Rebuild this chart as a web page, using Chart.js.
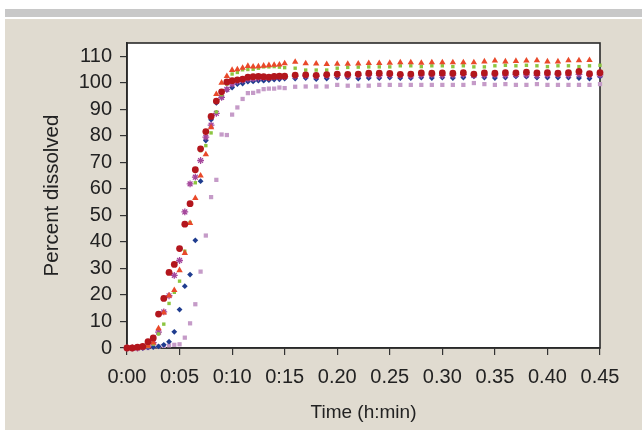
<!DOCTYPE html>
<html>
<head>
<meta charset="utf-8">
<script src="https://cdn.jsdelivr.net/npm/chart.js@4.4.1/dist/chart.umd.min.js"></script>
<style>
  html, body { margin: 0; padding: 0; background: #fff; }
  body { width: 642px; height: 430px; position: relative; overflow: hidden; }
  .band { position: absolute; left: 5px; right: 0; top: 9px; height: 8px; background: #c8c8c8; }
  .panel { position: absolute; left: 5px; right: 0; top: 19px; bottom: 0; background: #e0dbd0; }
  #chart { position: absolute; left: 0; top: 0; }
</style>
</head>
<body>
<div class="band"></div>
<div class="panel"></div>
<canvas id="chart" width="642" height="430"></canvas>
<script>
// sampling times in minutes: every 30 s up to 15 min, then every minute
const minutes = [0, 0.5, 1, 1.5, 2, 2.5, 3, 3.5, 4, 4.5, 5, 5.5, 6, 6.5, 7, 7.5, 8, 8.5, 9, 9.5,
    10, 10.5, 11, 11.5, 12, 12.5, 13, 13.5, 14, 14.5, 15,
    16, 17, 18, 19, 20, 21, 22, 23, 24, 25, 26, 27, 28, 29, 30,
    31, 32, 33, 34, 35, 36, 37, 38, 39, 40, 41, 42, 43, 44, 45];

const redCircles = [0, 0, 0.3, 0.6, 2.4, 3.8, 12.8, 18.7, 28.5, 31.5, 37.5, 46.7, 54.4, 67.2, 75.1,
    81.6, 87.3, 93.1, 96.6, 100.3, 100.8, 101.1, 101.4, 102.1, 102.3, 102.4, 102.3, 102.1, 102.4, 102.5, 102.5,
    102.9, 103.0, 102.8, 103.1, 103.3, 103.2, 103.3, 103.6, 103.6, 103.5, 103.2, 103.3, 103.7, 103.6, 103.7,
    103.6, 103.8, 103.3, 103.7, 103.6, 103.8, 103.7, 104.0, 103.7, 103.8, 103.6, 103.8, 104.3, 103.4, 103.8];

const orangeTriangles = [0, 0, 0, 0.3, 0.8, 2, 7.4, 13.3, 19.7, 21.8, 29.3, 35.8, 47.1, 56.5, 65,
    73, 83.2, 95.7, 100, 102.5, 104.8, 105, 105.6, 106.3, 106.1, 106.2, 106.4, 106.6, 106.7, 106.8, 107.3,
    107.9, 107.3, 107.2, 107.0, 107.1, 107.1, 107.2, 107.4, 107.4, 107.5, 107.7, 107.7, 107.5, 107.7, 107.7,
    107.7, 107.7, 107.7, 108.0, 108.3, 108.0, 108.2, 108.3, 108.4, 108.0, 108.0, 108.4, 108.4, 108.5];

const greenSquares = [0, 0, 0, 0.2, 0.6, 1.5, 5.3, 9, 16.8, 21, 25.2, 36.5, 47.3, 62.3, 74.4,
    76.3, 81.1, 89, 95.5, 99.5, 103.3, 103.9, 104.9, 105.0, 105.1, 105.5, 106.0, 106.0, 106.1, 105.9, 105.7,
    105.5, 104.8, 104.8, 104.8, 105.5, 105.8, 105.9, 106.0, 106.0, 106.0, 106.4, 106.4, 106.1, 106.4, 106.4,
    106.1, 106.4, 106.0, 106.0, 106.4, 106.6, 106.4, 106.6, 106.4, 106.1, 106.4, 106.4, 106.1, 106.4, 106.6];

const purpleStars = [0, 0, 0, 0.3, 0.8, 2, 6, 13.6, 19.7, 27.4, 33, 51.3, 61.9, 64.4, 70.7,
    79.5, 84, 88.5, 94.5, 97.5, 99.5, 100.5, 101, 101.5, 101.6, 101.8, 102, 102, 102.2, 102.2, 102.3,
    102.5, 102.6, 102.4, 102.7, 102.8, 102.6, 102.8, 102.9, 102.7, 102.9, 102.8, 102.6, 102.9, 103.0, 102.8,
    102.9, 103.1, 102.8, 102.9, 103.0, 102.9, 103.1, 103.0, 102.8, 103.0, 103.1, 102.9, 103.2, 102.9, 103.0];

const blueDiamonds = [0, 0, 0, 0, 0.2, 0.3, 0.6, 1.2, 2.4, 6.1, 14.5, 23.3, 27.7, 40.6, 62.9,
    78.2, 86.1, 92.4, 94.5, 97.4, 98.2, 99.5, 99.7, 100.4, 100.5, 100.8, 100.8, 101.0, 101.2, 101.3, 101.6,
    101.6, 101.8, 101.4, 101.6, 102.0, 102.0, 101.6, 101.8, 101.8, 102.0, 101.8, 101.8, 102.0, 101.8, 102.0,
    101.8, 102.0, 102.4, 102.0, 101.8, 102.0, 102.4, 102.3, 102.0, 102.0, 102.0, 102.0, 101.8, 101.6, 102.3];

const mauveSquares = [0, 0, 0, 0, 0, 0.4, 0.6, 0.8, 1, 1.2, 1.4, 3.9, 9.3, 16.5, 28.8,
    42.4, 56.9, 63.4, 80.5, 80.3, 88, 90.7, 93.9, 96.1, 96.2, 96.8, 97.6, 97.8, 97.8, 98.2, 98.0,
    98.5, 98.6, 98.6, 98.6, 99.2, 98.9, 98.9, 98.9, 99.2, 99.2, 99.2, 99.2, 99.2, 99.2, 99.2,
    99.2, 99.2, 99.9, 99.5, 99.2, 99.5, 99.2, 99.2, 99.5, 99.2, 99.2, 99.2, 99.2, 99.2, 99.5];

const xTicks = [0, 5, 10, 15, 20, 25, 30, 35, 40, 45];
const xTickLabels = ['0:00', '0:05', '0:10', '0:15', '0.20', '0.25', '0.30', '0.35', '0.40', '0.45'];
const yTicks = [0, 10, 20, 30, 40, 50, 60, 70, 80, 90, 100, 110];

const points = vals => vals.map((v, i) => ({ x: minutes[i], y: v }));

function series(vals, style, color, radius, extra) {
    return Object.assign({
        data: points(vals),
        showLine: false,
        pointStyle: style,
        pointRadius: radius,
        pointBackgroundColor: color,
        pointBorderColor: color,
        pointBorderWidth: 0,
        clip: false
    }, extra || {});
}

// white plot area with a dark frame round it
const frame = {
    id: 'frame',
    beforeDatasetsDraw(chart) {
        const { ctx, chartArea: a } = chart;
        ctx.save();
        ctx.strokeStyle = '#2a2a2a';
        ctx.lineWidth = 1.6;
        ctx.strokeRect(a.left, a.top, a.right - a.left, a.bottom - a.top);
        ctx.restore();
    },
    beforeDraw(chart) {
        const { ctx, chartArea: a } = chart;
        ctx.save();
        ctx.fillStyle = '#ffffff';
        ctx.fillRect(a.left, a.top, a.right - a.left, a.bottom - a.top);
        ctx.restore();
    }
};

const tickFont = { family: '"Liberation Sans", Arial, sans-serif', size: 20 };

new Chart(document.getElementById('chart'), {
    type: 'scatter',
    data: {
        datasets: [
            series(redCircles, 'circle', '#b3161d', 3.4),
            series(orangeTriangles, 'triangle', '#e9492a', 3.7),
            series(greenSquares, 'rect', '#8cc540', 2.4),
            series(purpleStars, 'star', '#a5479c', 3.4, { pointBorderWidth: 1.3 }),
            series(blueDiamonds, 'rectRot', '#1f3c8f', 2.9),
            series(mauveSquares, 'rect', '#c59bc8', 3.0)
        ]
    },
    options: {
        responsive: false,
        animation: false,
        devicePixelRatio: 1,
        layout: { padding: { left: 40, right: 42, top: 43, bottom: 6 } },
        plugins: { legend: { display: false }, tooltip: { enabled: false } },
        scales: {
            x: {
                type: 'linear',
                min: 0,
                max: 45,
                afterBuildTicks: s => { s.ticks = xTicks.map(v => ({ value: v })); },
                afterFit: s => { s.height = 76; s.paddingLeft = 0; s.paddingRight = 0; },
                ticks: {
                    color: '#222',
                    font: tickFont,
                    padding: 10,
                    maxRotation: 0,
                    callback: (v, i) => xTickLabels[i]
                },
                grid: { drawOnChartArea: false, drawTicks: true, tickLength: 7, color: '#333', lineWidth: 1.2 },
                border: { display: true, color: '#2a2a2a', width: 1.6 },
                title: {
                    display: true, text: 'Time (h:min)', color: '#222',
                    font: { family: '"Liberation Sans", Arial, sans-serif', size: 19 },
                    padding: { top: 0.6, bottom: 0 }
                }
            },
            y: {
                type: 'linear',
                min: 0,
                max: 115,
                afterBuildTicks: s => { s.ticks = yTicks.map(v => ({ value: v })); },
                afterFit: s => { s.width = 87; s.paddingTop = 0; s.paddingBottom = 0; },
                ticks: { color: '#222', font: tickFont, padding: 8 },
                grid: { drawOnChartArea: false, drawTicks: true, tickLength: 7, color: '#333', lineWidth: 1.2 },
                border: { display: true, color: '#2a2a2a', width: 1.6 },
                title: {
                    display: true, text: 'Percent dissolved', color: '#222',
                    font: { family: '"Liberation Sans", Arial, sans-serif', size: 20.5 },
                    padding: { top: 0, bottom: 0 }
                }
            }
        }
    },
    plugins: [frame]
});
</script>
</body>
</html>
